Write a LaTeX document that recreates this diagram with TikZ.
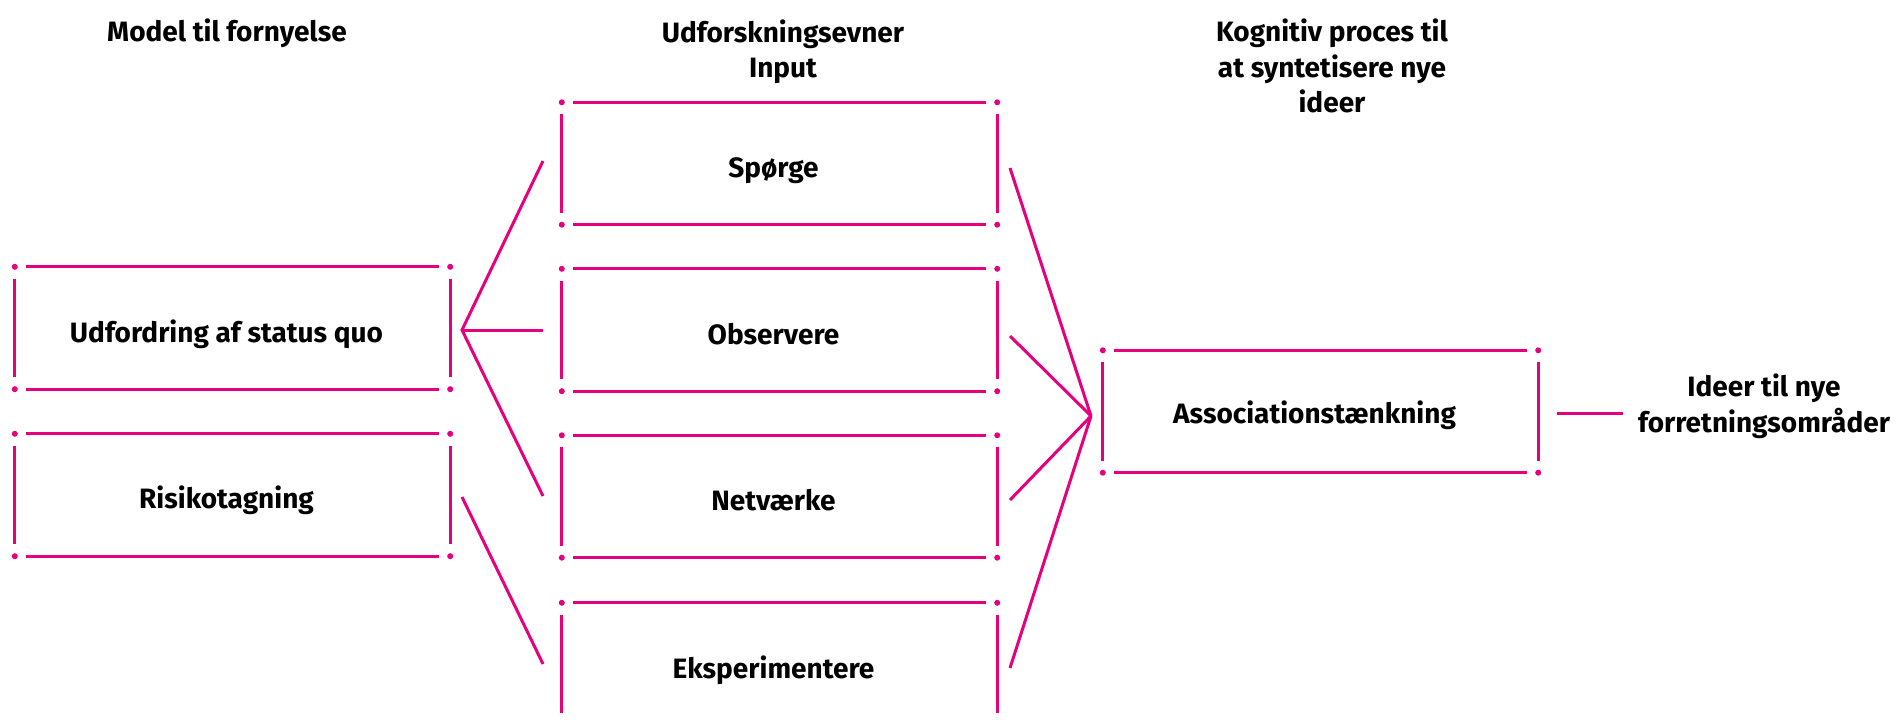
\documentclass[tikz,border=0pt]{standalone}
\usepackage{fontspec}
\setmainfont{Fira Sans}
\definecolor{pk}{RGB}{230,0,126}
\tikzset{
  pkline/.style={draw=pk, line width=3pt},
  lbl/.style={font=\fontsize{28}{35.5}\selectfont\bfseries, inner sep=0pt, anchor=base, align=center},
  frame/.style={minimum width=435pt, minimum height=122pt, inner sep=0pt, draw=none},
}
% open frame: corner dots and four separated sides
\newcommand\dotframe[1]{%
  \foreach \cc in {north west, north east, south west, south east}
    \fill[pk] (#1.\cc) circle (3pt);
  \draw[pkline] ([xshift=11pt]#1.north west) -- ([xshift=-11pt]#1.north east);
  \draw[pkline] ([xshift=11pt]#1.south west) -- ([xshift=-11pt]#1.south east);
  \draw[pkline] ([yshift=-12pt]#1.north west) -- ([yshift=12pt]#1.south west);
  \draw[pkline] ([yshift=-12pt]#1.north east) -- ([yshift=12pt]#1.south east);
}
\begin{document}
\begin{tikzpicture}[x=1pt, y=-1pt]
\useasboundingbox (0,0) rectangle (1897,722);
\clip (0,0) rectangle (1897,722);

% headers (anchored at the baseline of their last line)
\node[lbl] (h1) at (227,42) {Model til fornyelse};
\node[lbl] (h2) at (783,78) {Udforskningsevner\\Input};
\node[lbl] (h3) at (1332,113) {Kognitiv proces til\\at syntetisere nye\\ideer};

% frames
\node[frame] (udf)   at (232.5,328) {};
\node[frame] (risk)  at (232.5,495) {};
\node[frame] (sp)    at (779.5,163.5) {};
\node[frame] (obs)   at (779.5,330) {};
\node[frame] (net)   at (779.5,496.5) {};
\node[frame] (eks)   at (779.5,664) {};
\node[frame] (assoc) at (1320.5,411.5) {};

\foreach \b in {udf,risk,sp,obs,net,eks,assoc} { \dotframe{\b} }

% labels
\node[lbl] (tudf)   at ([xshift=-6pt,yshift=-14pt]udf.center)  {Udfordring af status quo};
\node[lbl] (trisk)  at ([xshift=-6pt,yshift=-13pt]risk.center) {Risikotagning};
\node[lbl] (tsp)    at ([xshift=-6pt,yshift=-14pt]sp.center)   {Spørge};
\node[lbl] (tobs)   at ([xshift=-6pt,yshift=-14pt]obs.center)  {Observere};
\node[lbl] (tnet)   at ([xshift=-6pt,yshift=-14pt]net.center)  {Netværke};
\node[lbl] (teks)   at ([xshift=-6pt,yshift=-14pt]eks.center)  {Eksperimentere};
\node[lbl] (tassoc) at ([xshift=-6pt,yshift=-12pt]assoc.center) {Associationstænkning};
\node[lbl] (out)    at (1764,432) {Ideer til nye\\forretningsområder};

% fan from the first frame into the input column
\coordinate (lf) at (462,330);
\coordinate (lsp) at (543,161);
\coordinate (lobs) at (543,330);
\coordinate (lnet) at (543,496);
\coordinate (lr1) at (462,497);
\coordinate (leks) at (543,664);
\draw[pkline] (lsp) -- (lf) -- (lnet);
\draw[pkline] (lf) -- (lobs);
\draw[pkline] (lr1) -- (leks);

% fan from the input column into the synthesis frame
\coordinate (rc) at (1091,416);
\coordinate (rsp) at (1010,168);
\coordinate (robs) at (1010,336);
\coordinate (rnet) at (1010,500);
\coordinate (reks) at (1010,668);
\foreach \p in {rsp,robs,rnet,reks} \draw[pkline] (\p) -- (rc);

% output connector
\coordinate (o1) at (1557,413);
\coordinate (o2) at (1623,413);
\draw[pkline] (o1) -- (o2);
\end{tikzpicture}
\end{document}
